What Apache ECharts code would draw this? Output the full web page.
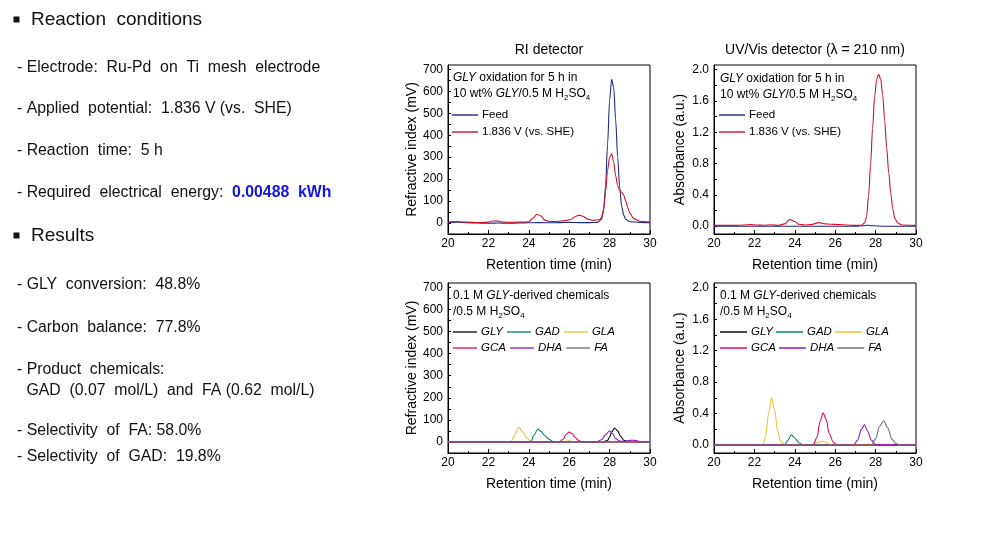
<!DOCTYPE html>
<html>
<head>
<meta charset="utf-8">
<script src="https://cdn.jsdelivr.net/npm/echarts@6.0.0/dist/echarts.min.js"></script>
<style>
  html, body { margin: 0; padding: 0; background: #fff; }
  #chart { width: 981px; height: 540px; }
</style>
</head>
<body>
<div id="chart"></div>
<script>
// ---- data: [retention time (min), signal] ----
const feedRI = [[20,3],[20.5,4],[21,1],[21.5,0],[22,-1],[22.5,0],[23,-1],[23.5,0],[24,1],[24.5,2],[25,1],[25.5,2],[26,3],[26.5,2],[27,2],[27.4,3],[27.6,16],[27.7,55],[27.8,170],[27.9,360],[28,560],[28.1,655],[28.2,620],[28.3,470],[28.4,300],[28.5,160],[28.6,75],[28.7,35],[28.8,16],[29,6],[29.5,3],[30,2]];
const oxRI = [[20,5],[20.4,7],[20.8,5],[21.2,3],[21.6,2],[22,4],[22.2,9],[22.4,10],[22.6,6],[23,3],[23.5,4],[24,6],[24.2,22],[24.4,40],[24.6,32],[24.8,13],[25,7],[25.4,7],[25.8,11],[26.1,16],[26.3,30],[26.5,36],[26.7,30],[26.9,18],[27.2,12],[27.5,15],[27.6,25],[27.7,60],[27.8,140],[27.9,240],[28,300],[28.1,315],[28.2,280],[28.3,215],[28.4,170],[28.5,150],[28.6,140],[28.7,128],[28.8,100],[28.9,70],[29,45],[29.2,20],[29.5,8],[30,4]];
const feedUV = [[20,0],[21,0],[22,0],[23,0],[24,0],[25,0],[26,0],[27,0],[27.4,0.005],[27.6,0.012],[27.8,0.005],[28.5,0],[30,0]];
const oxUV = [[20,0.01],[20.5,0.01],[21,0.01],[21.5,0.015],[21.8,0.02],[22.1,0.015],[22.5,0.012],[22.8,0.018],[23.2,0.01],[23.5,0.03],[23.75,0.085],[24,0.06],[24.2,0.025],[24.5,0.015],[24.8,0.02],[25.2,0.045],[25.5,0.03],[25.8,0.025],[26.2,0.02],[26.6,0.015],[27,0.01],[27.3,0.01],[27.45,0.04],[27.55,0.12],[27.65,0.38],[27.75,0.78],[27.85,1.25],[27.95,1.65],[28.05,1.88],[28.15,1.94],[28.25,1.88],[28.35,1.68],[28.45,1.35],[28.55,1.0],[28.65,0.68],[28.75,0.42],[28.85,0.22],[28.95,0.1],[29.1,0.04],[29.3,0.015],[30,0.01]];

const glyRI = [[20,0],[27.7,0],[27.9,8],[28,22],[28.1,45],[28.25,63],[28.4,50],[28.55,25],[28.7,8],[28.9,2],[29.2,0],[30,0]];
const gadRI = [[20,0],[24.1,0],[24.25,30],[24.45,59],[24.6,48],[24.8,28],[25,12],[25.2,2],[25.4,0],[30,0]];
const glaRI = [[20,0],[23.1,0],[23.3,30],[23.5,68],[23.7,45],[23.9,18],[24.1,3],[24.3,0],[25.7,0],[26,5],[26.3,0],[30,0]];
const gcaRI = [[20,0],[25.5,0],[25.7,12],[25.85,35],[26,45],[26.15,37],[26.3,20],[26.45,8],[26.6,2],[26.8,0],[30,0]];
const dhaRI = [[20,0],[27.35,0],[27.6,10],[27.8,32],[28,51],[28.15,38],[28.3,15],[28.5,4],[28.8,3],[29,7],[29.2,8],[29.4,4],[29.6,0],[30,0]];
const faRI = [[20,0],[28.9,0],[29.1,3],[29.3,2],[29.6,0],[30,0]];

const glyUV = [[20,0],[25,0],[30,0]];
const gadUV = [[20,0],[23.5,0],[23.65,0.06],[23.83,0.13],[24,0.09],[24.2,0.03],[24.4,0],[30,0]];
const glaUV = [[20,0],[22.4,0],[22.55,0.1],[22.7,0.4],[22.85,0.6],[23,0.45],[23.15,0.18],[23.3,0.05],[23.5,0],[24.9,0],[25.1,0.03],[25.3,0.05],[25.5,0.04],[25.7,0.01],[25.9,0],[26.8,0],[27,0.012],[27.2,0],[30,0]];
const gcaUV = [[20,0],[24.9,0],[25.1,0.1],[25.25,0.3],[25.4,0.41],[25.55,0.33],[25.7,0.15],[25.9,0.04],[26.1,0],[30,0]];
const dhaUV = [[20,0],[26.9,0],[27.1,0.06],[27.3,0.2],[27.45,0.26],[27.6,0.18],[27.8,0.06],[28,0.005],[30,0]];
const faUV = [[20,0],[27.8,0],[28,0.08],[28.2,0.24],[28.4,0.31],[28.6,0.22],[28.8,0.08],[29,0.02],[29.2,0],[30,0]];

// tick labels
const riLabels = [0, 100, 200, 300, 400, 500, 600, 700];
const riTicks = [0, 50, 100, 150, 200, 250, 300, 350, 400, 450, 500, 550, 600, 650, 700];
const uvLabels = [0, 0.4, 0.8, 1.2, 1.6, 2.0];
const uvTicks = [0, 0.2, 0.4, 0.6, 0.8, 1.0, 1.2, 1.4, 1.6, 1.8, 2.0];

const chemNames = ['GLY', 'GAD', 'GLA', 'GCA', 'DHA', 'FA'];
const chemColors = ['#000000', '#00806e', '#f2c12e', '#e4006c', '#8a12c8', '#6e6e6e'];

const FONT = 'Liberation Sans, Arial, sans-serif';
const feedColor = '#1c2a80';
const oxColor = '#d0102c';

const myChart = echarts.init(document.getElementById('chart'));

const grids = [
  { left: 448, top: 65, width: 202, height: 169 },
  { left: 714, top: 65, width: 202, height: 169 },
  { left: 448, top: 283, width: 202, height: 170 },
  { left: 714, top: 283, width: 202, height: 170 },
].map(g => Object.assign(g, { show: true, borderColor: '#000', borderWidth: 1 }));

const xAxis = [0, 1, 2, 3].map(i => ({
  type: 'value', gridIndex: i, min: 20, max: 30, interval: 2,
  name: 'Retention time (min)', nameLocation: 'middle', nameGap: 24,
  nameTextStyle: { fontSize: 14, color: '#000', fontFamily: FONT },
  axisLine: { onZero: false, lineStyle: { color: '#000', width: 1 } },
  axisTick: { inside: true, length: 4, lineStyle: { color: '#000' } },
  minorTick: { show: true, splitNumber: 2, length: 2, lineStyle: { color: '#000' } },
  axisLabel: { fontSize: 12, color: '#000', fontFamily: FONT, margin: 4 },
  splitLine: { show: false },
}));

function riAxis(i) {
  return {
    type: 'value', gridIndex: i, min: -50, max: 720,
    name: 'Refractive index (mV)', nameLocation: 'middle', nameGap: 29,
    nameTextStyle: { fontSize: 14, color: '#000', fontFamily: FONT },
    axisLine: { show: true, onZero: false, lineStyle: { color: '#000', width: 1 } },
    axisTick: { show: true, inside: true, length: 3, customValues: riTicks, lineStyle: { color: '#000' } },
    axisLabel: { fontSize: 12, color: '#000', fontFamily: FONT, margin: 5, customValues: riLabels },
    splitLine: { show: false },
  };
}
function uvAxis(i) {
  return {
    type: 'value', gridIndex: i, min: -0.1, max: 2.06,
    name: 'Absorbance (a.u.)', nameLocation: 'middle', nameGap: 27,
    nameTextStyle: { fontSize: 14, color: '#000', fontFamily: FONT },
    axisLine: { show: true, onZero: false, lineStyle: { color: '#000', width: 1 } },
    axisTick: { show: true, inside: true, length: 3, customValues: uvTicks, lineStyle: { color: '#000' } },
    axisLabel: { fontSize: 12, color: '#000', fontFamily: FONT, margin: 5, customValues: uvLabels,
      formatter: v => Number(v).toFixed(1) },
    splitLine: { show: false },
  };
}

function line(name, data, color, idx) {
  return {
    name, type: 'line', data, xAxisIndex: idx, yAxisIndex: idx,
    symbol: 'none', smooth: 0.3, smoothMonotone: 'x',
    lineStyle: { color, width: 1.1 }, itemStyle: { color },
    silent: true, animation: false,
  };
}

const series = [
  line('Feed', feedRI, feedColor, 0),
  line('1.836 V (vs. SHE)', oxRI, oxColor, 0),
  line('Feed', feedUV, feedColor, 1),
  line('1.836 V (vs. SHE)', oxUV, oxColor, 1),
];
const riChem = [glyRI, gadRI, glaRI, gcaRI, dhaRI, faRI];
const uvChem = [glyUV, gadUV, glaUV, gcaUV, dhaUV, faUV];
chemNames.forEach((n, k) => series.push(line(n, riChem[k], chemColors[k], 2)));
chemNames.forEach((n, k) => series.push(line(n, uvChem[k], chemColors[k], 3)));

// thin bar used as the legend key so only a line sample shows
const lineIcon = 'path://M0,0 H26 V1.4 H0 Z';
const legBase = {
  padding: 0, itemHeight: 10, selectedMode: false, icon: lineIcon,
  textStyle: { fontSize: 11.5, color: '#000', fontFamily: FONT, padding: [0, 0, 0, -1] },
};
const italicText = Object.assign({}, legBase.textStyle, { fontStyle: 'italic' });
const legend = [
  Object.assign({}, legBase, { data: ['Feed', '1.836 V (vs. SHE)'], orient: 'vertical', left: 452, top: 109, itemWidth: 26, itemGap: 5 }),
  Object.assign({}, legBase, { data: ['Feed', '1.836 V (vs. SHE)'], orient: 'vertical', left: 719, top: 109, itemWidth: 26, itemGap: 5 }),
  Object.assign({}, legBase, { data: chemNames.slice(0, 3), left: 453, top: 326, itemWidth: 24, itemGap: 4, textStyle: italicText }),
  Object.assign({}, legBase, { data: chemNames.slice(3), left: 453, top: 342, itemWidth: 24, itemGap: 4, textStyle: italicText }),
  Object.assign({}, legBase, { data: chemNames.slice(0, 3), left: 720, top: 326, itemWidth: 27, itemGap: 3, textStyle: italicText }),
  Object.assign({}, legBase, { data: chemNames.slice(3), left: 720, top: 342, itemWidth: 27, itemGap: 3, textStyle: italicText }),
];

// rich styles for notes inside the plots
const noteRich = {
  i: { fontStyle: 'italic', fontSize: 12, fontFamily: FONT, fill: '#000' },
  s: { fontSize: 8, fontFamily: FONT, fill: '#000', verticalAlign: 'bottom', lineHeight: 9 },
};
function note(x, y, text) {
  return { type: 'text', x, y, silent: true,
    style: { text, fontSize: 12, fontFamily: FONT, fill: '#000', verticalAlign: 'middle', lineHeight: 15, rich: noteRich } };
}
function txt(x, y, text, size, extra) {
  return { type: 'text', x, y, silent: true,
    style: Object.assign({ text, fontSize: size, fontFamily: FONT, fill: '#111', verticalAlign: 'middle' }, extra || {}) };
}

const graphic = [
  // panel titles
  txt(549, 50, 'RI detector', 14, { align: 'center', fill: '#000' }),
  txt(815, 50, 'UV/Vis detector (λ = 210 nm)', 14, { align: 'center', fill: '#000' }),
  // notes in the panels
  note(453, 78, '{i|GLY} oxidation for 5 h in'),
  note(453, 94, '10 wt% {i|GLY}/0.5 M H{s|2}SO{s|4}'),
  note(720, 79, '{i|GLY} oxidation for 5 h in'),
  note(720, 95, '10 wt% {i|GLY}/0.5 M H{s|2}SO{s|4}'),
  note(453, 296, '0.1 M {i|GLY}-derived chemicals'),
  note(453, 312, '/0.5 M H{s|2}SO{s|4}'),
  note(720, 296, '0.1 M {i|GLY}-derived chemicals'),
  note(720, 312, '/0.5 M H{s|2}SO{s|4}'),
  // left-hand summary
  { type: 'rect', shape: { x: 13.5, y: 16.5, width: 6, height: 6 }, style: { fill: '#111' }, silent: true },
  txt(31, 19.5, 'Reaction  conditions', 19),
  txt(17, 67.5, '- Electrode:  Ru-Pd  on  Ti  mesh  electrode', 15.8),
  txt(17, 109, '- Applied  potential:  1.836 V (vs.  SHE)', 15.8),
  txt(17, 151, '- Reaction  time:  5 h', 15.8),
  txt(17, 192.5, '- Required  electrical  energy:  {b|0.00488  kWh}', 15.8,
    { rich: { b: { fontSize: 15.8, fontFamily: FONT, fontWeight: 'bold', fill: '#1414e6' } } }),
  { type: 'rect', shape: { x: 13.5, y: 232.5, width: 6, height: 6 }, style: { fill: '#111' }, silent: true },
  txt(31, 235.5, 'Results', 19),
  txt(17, 285, '- GLY  conversion:  48.8%', 15.8),
  txt(17, 327.5, '- Carbon  balance:  77.8%', 15.8),
  txt(17, 370, '- Product  chemicals:', 15.8),
  txt(26.5, 390.5, 'GAD  (0.07  mol/L)  and  FA (0.62  mol/L)', 15.8),
  txt(17, 431, '- Selectivity  of  FA: 58.0%', 15.8),
  txt(17, 456.5, '- Selectivity  of  GAD:  19.8%', 15.8),
];

const option = {
  backgroundColor: '#fff',
  animation: false,
  grid: grids,
  xAxis: xAxis,
  yAxis: [riAxis(0), uvAxis(1), riAxis(2), uvAxis(3)],
  legend: legend,
  series: series,
  graphic: graphic,
};
myChart.setOption(option);
</script>
</body>
</html>
